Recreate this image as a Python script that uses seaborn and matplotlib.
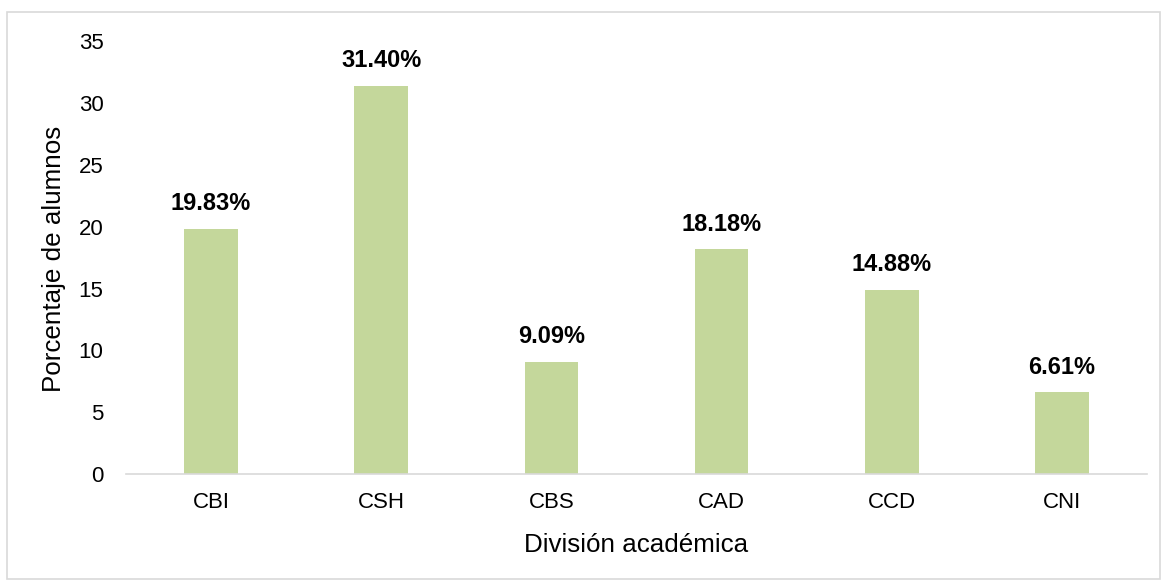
import matplotlib
matplotlib.use("Agg")
import matplotlib.pyplot as plt
import seaborn as sns
import pandas as pd
from matplotlib.patches import Rectangle

categories = ["CBI", "CSH", "CBS", "CAD", "CCD", "CNI"]
values = [19.83, 31.40, 9.09, 18.18, 14.88, 6.61]
labels = ["19.83%", "31.40%", "9.09%", "18.18%", "14.88%", "6.61%"]
yticks = [0, 5, 10, 15, 20, 25, 30, 35]

sns.set_theme(style="white")
plt.rcParams["font.family"] = ["Liberation Sans", "DejaVu Sans"]

df = pd.DataFrame({"cat": categories, "val": values})

fig = plt.figure(figsize=(11.65, 5.81), dpi=100)
ax = fig.add_axes([0.108, 0.184, 0.8766, 0.745])
sns.barplot(data=df, x="cat", y="val", color="#C4D79B", width=0.315,
            saturation=1, ax=ax, edgecolor="none")

for i, (v, t) in enumerate(zip(values, labels)):
    ax.text(i, v + 1.1, t, ha="center", va="bottom", fontsize=17,
            fontweight="bold", color="black")

ax.set_ylim(0, 35)
ax.set_xlim(-0.5, 5.5)
ax.set_yticks(yticks)
ax.tick_params(axis="both", length=0, labelsize=16, colors="black")
ax.tick_params(axis="x", pad=13)
ax.tick_params(axis="y", pad=16)
ax.set_xlabel("")
ax.set_ylabel("")
fig.text(0.5 * (126 + 1147) / 1165, 1 - 545 / 581, "División académica",
         fontsize=18.7, color="black", ha="center", va="center")
fig.text(54 / 1165, 1 - 259 / 581, "Porcentaje de alumnos", rotation=90,
         fontsize=18.7, color="black", ha="center", va="center")

for s in ["top", "right", "left"]:
    ax.spines[s].set_visible(False)
ax.spines["bottom"].set_color("#D9D9D9")
ax.spines["bottom"].set_linewidth(1.2)

fig.patches.append(Rectangle((0.006, 0.003), 0.99, 0.977, transform=fig.transFigure,
                             fill=False, edgecolor="#D9D9D9", linewidth=1.2))

fig.savefig("out.png", dpi=100)
